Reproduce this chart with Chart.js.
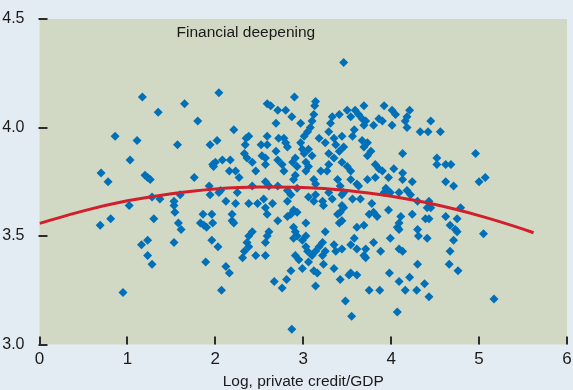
<!DOCTYPE html>
<html><head><meta charset="utf-8">
<script src="https://cdn.jsdelivr.net/npm/chart.js@4/dist/chart.umd.min.js"></script>
<style>html,body{margin:0;padding:0;background:#e4ecf3;}#wrap{width:573px;height:390px;}</style>
</head><body><div id="wrap"><canvas id="c" width="573" height="390"></canvas></div>
<script>
// Scatter: log private credit/GDP (x) vs outcome (y)
const creditX = [
1.17,1.65,1.35,1.80,2.04,0.86,1.11,1.57,1.94,2.02,1.03,1.97,2.00,1.98,0.70,0.78,1.20,1.23,1.26,1.76,
1.93,1.94,2.04,1.28,1.37,1.60,1.53,1.53,1.54,1.02,0.81,1.30,1.86,1.96,0.69,1.58,1.61,1.83,1.87,1.90,
1.97,1.16,1.23,1.53,1.23,1.28,1.96,2.03,1.89,0.95,2.07,2.90,3.14,3.13,2.59,2.63,2.71,2.80,2.87,2.69,
2.97,3.12,3.10,3.33,3.41,3.31,2.21,2.38,2.35,2.59,2.34,2.52,2.59,2.72,2.78,2.80,2.82,3.05,3.01,3.08,
3.18,3.29,3.35,3.25,3.44,3.37,3.46,2.97,2.99,3.01,3.06,3.10,2.33,2.36,2.42,2.53,2.57,2.69,2.71,2.76,
2.78,2.91,2.88,3.03,3.06,3.03,2.17,2.08,2.16,2.23,2.46,2.57,2.93,3.29,3.35,3.41,3.29,3.44,3.20,3.27,
3.69,3.92,4.01,4.05,4.21,4.18,4.16,3.50,3.59,3.54,3.63,3.67,3.71,3.86,3.90,3.80,3.69,4.01,4.18,4.45,
4.33,4.42,4.56,3.58,3.56,3.67,3.73,3.69,3.77,3.73,4.13,4.52,4.52,4.62,4.68,3.82,3.86,3.90,4.03,3.50,
3.54,4.13,2.27,2.91,2.89,3.12,3.14,3.39,3.42,2.06,2.25,2.42,2.57,2.61,2.71,2.82,2.86,2.82,2.93,3.06,
3.12,3.14,3.22,3.23,3.29,3.33,2.12,2.23,2.38,2.48,2.55,2.65,2.57,2.59,2.19,2.19,2.21,2.71,2.89,2.86,
2.82,2.93,3.03,3.39,3.41,3.44,2.42,2.38,2.36,2.38,2.33,2.31,2.61,2.59,2.57,2.89,2.91,2.93,2.89,3.03,
2.99,3.03,3.05,3.25,3.22,3.18,3.14,3.10,3.35,3.37,3.44,3.25,3.22,2.57,2.46,2.91,3.54,3.73,3.82,3.97,
4.13,4.24,4.62,4.71,3.61,3.63,3.94,3.92,3.99,4.09,4.18,4.22,3.44,3.46,3.56,3.65,4.30,4.43,4.45,4.41,
4.79,3.44,3.46,3.42,3.78,3.75,3.80,3.84,3.97,4.24,4.11,4.09,4.07,4.09,4.39,4.43,4.62,4.75,3.61,3.69,
4.30,4.67,4.73,4.75,4.31,4.41,3.99,3.58,3.54,3.61,3.80,4.71,3.71,3.69,3.88,4.09,4.13,4.67,4.96,5.00,
5.07,5.05,5.17,2.12,2.16,2.95,2.67,2.76,2.81,2.86,2.99,3.06,3.12,3.16,3.14,3.23,3.35,3.42,3.54,3.52,
3.61,3.71,3.48,3.55,2.87,3.75,3.87,3.98,4.09,4.16,4.21,4.30,4.29,4.38,4.43,4.07,4.66,4.76,3.46
];
const outcomeY = [
4.14,4.11,4.07,4.03,4.16,3.96,3.94,3.92,3.92,3.94,3.85,3.83,3.84,3.82,3.79,3.75,3.78,3.77,3.76,3.77,
3.73,3.69,3.70,3.68,3.67,3.69,3.66,3.64,3.61,3.64,3.58,3.58,3.60,3.60,3.55,3.56,3.53,3.56,3.55,3.54,
3.56,3.46,3.48,3.47,3.41,3.37,3.48,3.45,3.38,3.24,3.25,4.14,4.12,4.10,4.11,4.10,4.08,4.08,4.05,4.02,
4.02,4.06,4.03,4.05,4.06,4.02,3.99,3.96,3.95,3.96,3.92,3.92,3.92,3.95,3.95,3.93,3.91,3.98,3.96,4.00,
3.95,3.98,3.95,3.93,3.96,3.92,3.91,3.93,3.90,3.88,3.90,3.87,3.88,3.86,3.84,3.87,3.86,3.89,3.85,3.83,
3.80,3.86,3.84,3.84,3.82,3.80,3.85,3.85,3.80,3.80,3.80,3.83,3.82,3.88,3.86,3.89,3.83,3.84,3.80,3.80,
4.10,4.10,4.08,4.06,4.08,4.05,4.03,4.08,4.08,4.05,4.06,4.04,4.03,4.04,4.03,4.01,4.01,4.01,4.00,4.03,
3.98,3.98,3.98,3.99,3.96,3.94,3.93,3.91,3.89,3.87,3.88,3.86,3.83,3.83,3.83,3.83,3.81,3.80,3.81,3.82,
3.80,3.79,3.77,3.78,3.76,3.76,3.74,3.76,3.73,3.71,3.70,3.73,3.75,3.73,3.73,3.71,3.69,3.66,3.72,3.68,
3.66,3.69,3.66,3.64,3.70,3.67,3.66,3.65,3.65,3.65,3.67,3.65,3.63,3.60,3.60,3.57,3.56,3.57,3.62,3.60,
3.59,3.61,3.56,3.60,3.56,3.57,3.52,3.50,3.47,3.45,3.43,3.40,3.52,3.50,3.47,3.54,3.52,3.50,3.49,3.50,
3.48,3.45,3.43,3.52,3.47,3.45,3.43,3.41,3.46,3.43,3.44,3.43,3.41,3.41,3.41,3.41,3.76,3.76,3.77,3.77,
3.76,3.75,3.75,3.73,3.74,3.73,3.72,3.70,3.70,3.70,3.71,3.69,3.69,3.70,3.67,3.67,3.66,3.66,3.63,3.63,
3.63,3.64,3.63,3.61,3.65,3.60,3.61,3.59,3.62,3.60,3.59,3.56,3.54,3.53,3.58,3.58,3.59,3.58,3.54,3.55,
3.53,3.55,3.53,3.52,3.50,3.49,3.49,3.49,3.46,3.44,3.47,3.48,3.44,3.41,3.43,3.44,3.43,3.43,3.88,3.75,
3.77,3.51,3.21,3.36,3.33,3.39,3.29,3.26,3.30,3.34,3.35,3.38,3.34,3.33,3.27,3.37,3.35,3.30,3.33,3.32,
3.32,3.40,3.20,3.13,3.07,3.25,3.25,3.33,3.29,3.25,3.31,3.37,3.25,3.28,3.22,3.15,3.37,3.34,4.30
];
// Fitted quadratic curve
const fitX = [0, 0.5, 1, 1.5, 2, 2.5, 3, 3.5, 4, 4.5, 5, 5.5, 5.62];
const fitY = [3.558, 3.616, 3.662, 3.695, 3.717, 3.726, 3.724, 3.710, 3.683, 3.645, 3.594, 3.532, 3.515];
const xTicks = [0, 1, 2, 3, 4, 5, 6];
const yTicks = [3.0, 3.5, 4.0, 4.5];
const xTitle = 'Log, private credit/GDP';
const panelLabel = 'Financial deepening';

const FONT = "'Liberation Sans', Arial, sans-serif";
const scatterData = creditX.map((x, i) => ({x: x, y: outcomeY[i]}));
const fitData = fitX.map((x, i) => ({x: x, y: fitY[i]}));

const decor = {
  id: 'decor',
  beforeDraw(chart) {
    const {ctx, chartArea: a} = chart;
    ctx.save();
    ctx.fillStyle = '#e4ecf3';
    ctx.fillRect(0, 0, chart.width, chart.height);
    ctx.fillStyle = '#d1d9c4';
    ctx.fillRect(a.left, a.top, a.right - a.left, a.bottom - a.top);
    ctx.restore();
  },
  afterDraw(chart) {
    const {ctx, chartArea: a, scales} = chart;
    ctx.save();
    ctx.fillStyle = '#2b2b2b';
    xTicks.forEach(v => {
      const px = Math.round(scales.x.getPixelForValue(v));
      ctx.fillRect(px - 1, a.bottom - 8, 2, 8);
    });
    yTicks.forEach(v => {
      const py = Math.round(scales.y.getPixelForValue(v));
      ctx.fillRect(a.left - 1, py - 1, 9, 2);
    });
    ctx.fillStyle = '#1a1a1a';
    ctx.font = "15.5px " + FONT;
    ctx.textBaseline = 'middle';
    ctx.textAlign = 'left';
    ctx.fillText(panelLabel, a.left + 137, a.top + 14);
    ctx.restore();
  }
};

new Chart(document.getElementById('c'), {
  data: {
    datasets: [
      {
        type: 'line', data: fitData, borderColor: '#d21f2c', borderWidth: 3,
        pointRadius: 0, tension: 0.4, cubicInterpolationMode: 'monotone', fill: false, order: 0
      },
      {
        type: 'scatter', data: scatterData, backgroundColor: '#0070b8', borderWidth: 0,
        pointStyle: 'rectRot', pointRadius: 4.5, order: 1
      }
    ]
  },
  options: {
    responsive: false, animation: false, devicePixelRatio: 1,
    layout: {padding: {top: 19, right: 6, left: 0, bottom: 0}},
    plugins: {legend: {display: false}, tooltip: {enabled: false}},
    scales: {
      x: {
        type: 'linear', min: 0, max: 6,
        afterBuildTicks: s => { s.ticks = xTicks.map(v => ({value: v})); },
        afterFit: s => { s.height = 45.5; },
        grid: {display: false}, border: {display: false},
        ticks: {color: '#1a1a1a', font: {family: FONT, size: 17}, padding: -3, maxRotation: 0,
                callback: v => String(v)},
        title: {display: true, text: xTitle, color: '#1a1a1a', font: {family: FONT, size: 15.5},
                padding: {top: 0, bottom: -1}}
      },
      y: {
        type: 'linear', min: 3.0, max: 4.5,
        afterBuildTicks: s => { s.ticks = yTicks.map(v => ({value: v})); },
        afterFit: s => { s.width = 39.5; },
        grid: {display: false}, border: {display: false},
        ticks: {color: '#1a1a1a', font: {family: FONT, size: 16}, padding: 7,
                callback: v => Number(v).toFixed(1)}
      }
    }
  },
  plugins: [decor]
});
</script>
</body></html>
